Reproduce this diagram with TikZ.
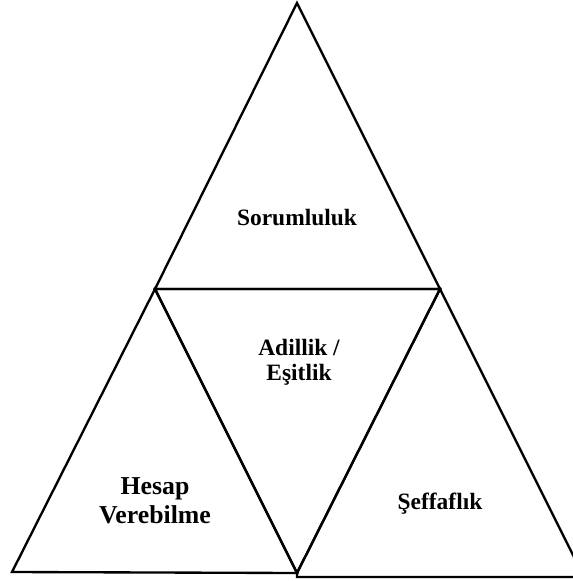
\documentclass[tikz,border=0pt]{standalone}
\usepackage{fontspec}
\setmainfont{Liberation Serif}

\begin{document}
\begin{tikzpicture}[
    x=0.03cm, y=-0.03cm,
    tri/.style={draw, line width=2pt, line join=miter},
    lbl/.style={font=\fontsize{20}{21.3}\selectfont\bfseries, align=center, anchor=base}
]
    \clip (0,0) rectangle (573,581);

    \coordinate (apex) at (297,3);
    \coordinate (midl) at (155,289);
    \coordinate (midr) at (440,289);
    \coordinate (botl) at (12,572);
    \coordinate (botm) at (297,573);
    \coordinate (botr) at (584,577);

    \draw[tri] (apex) -- (midl) -- (midr) -- cycle;
    \draw[tri] (midl) -- (midr) -- (botm) -- cycle;
    \draw[tri] (midl) -- (botl) -- (botm) -- cycle;
    \draw[tri] (midr) -- (botm) -- (botm |- botr) -- (botr) -- cycle;

    \node[lbl] (sorum) at (297,225) {Sorumluluk};
    \node[lbl] (adil) at (299,380) {Adillik /\\Eşitlik};
    \node[lbl, font=\fontsize{22}{24}\selectfont\bfseries] (hesap) at (155,523) {Hesap\\Verebilme};
    \node[lbl] (seffaf) at (440,509) {Şeffaflık};
\end{tikzpicture}
\end{document}
